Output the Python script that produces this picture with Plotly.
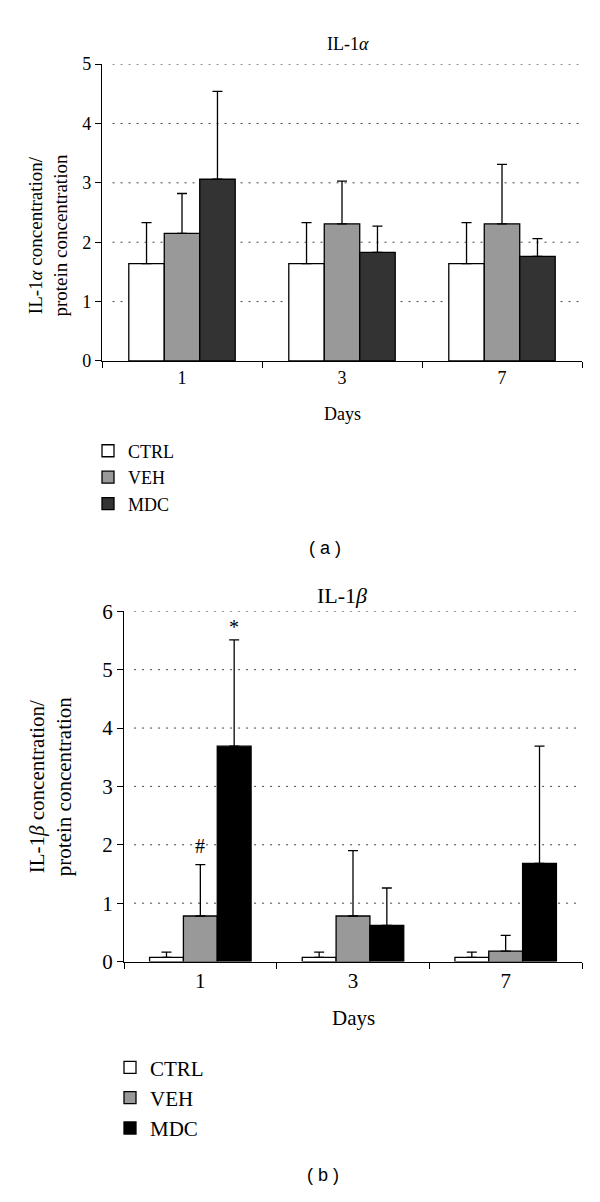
import plotly.graph_objects as go

days = ['1', '3', '7']
groups = ['CTRL', 'VEH', 'MDC']

# panel (a): IL-1 alpha, means and upper SD
a_ctrl = [1.64, 1.64, 1.64]
a_veh = [2.15, 2.31, 2.31]
a_mdc = [3.06, 1.83, 1.76]
a_ctrl_sd = [0.69, 0.69, 0.69]
a_veh_sd = [0.67, 0.72, 1.00]
a_mdc_sd = [1.48, 0.44, 0.30]
a_ticks = [0, 1, 2, 3, 4, 5]

# panel (b): IL-1 beta, means and upper SD
b_ctrl = [0.07, 0.07, 0.07]
b_veh = [0.78, 0.78, 0.18]
b_mdc = [3.69, 0.62, 1.68]
b_ctrl_sd = [0.09, 0.09, 0.09]
b_veh_sd = [0.88, 1.12, 0.27]
b_mdc_sd = [1.82, 0.64, 2.01]
b_ticks = [0, 1, 2, 3, 4, 5, 6]

# the page body has an 8px margin, so the figure is made that much smaller
PAGE_W, PAGE_H = 600, 1202
OFF = 8
W, H = PAGE_W - 2 * OFF, PAGE_H - 2 * OFF
BARGAP = 0.335


def px(x):
    return (x - OFF) / W


def py(y):
    return 1 - (y - OFF) / H


fig = go.Figure()

# Panel a bars
colors_a = ['white', '#999999', '#333333']
for name, vals, sd, col in zip(groups, [a_ctrl, a_veh, a_mdc],
                               [a_ctrl_sd, a_veh_sd, a_mdc_sd], colors_a):
    fig.add_trace(go.Bar(
        x=days, y=vals, name=name, xaxis='x', yaxis='y', legend='legend',
        marker=dict(color=col, line=dict(color='black', width=1.3)),
        error_y=dict(type='data', symmetric=False, array=sd, arrayminus=[0] * len(sd),
                     color='black', thickness=1.3, width=5),
    ))

# Panel b bars
colors_b = ['white', '#999999', '#000000']
for name, vals, sd, col in zip(groups, [b_ctrl, b_veh, b_mdc],
                               [b_ctrl_sd, b_veh_sd, b_mdc_sd], colors_b):
    fig.add_trace(go.Bar(
        x=days, y=vals, name=name, xaxis='x2', yaxis='y2', legend='legend2',
        marker=dict(color=col, line=dict(color='black', width=1.3)),
        error_y=dict(type='data', symmetric=False, array=sd, arrayminus=[0] * len(sd),
                     color='black', thickness=1.3, width=5),
    ))

xcommon = dict(showline=True, linecolor='black', linewidth=1.3, ticks='outside',
               tickson='boundaries', ticklen=6, tickcolor='black', showgrid=False)
ycommon = dict(showline=True, linecolor='black', linewidth=1.3, ticks='outside',
               ticklen=6, tickcolor='black', showgrid=False, zeroline=False)

fig.update_layout(
    width=W, height=H,
    margin=dict(l=0, r=0, t=0, b=0),
    paper_bgcolor='white', plot_bgcolor='white',
    font=dict(family='Liberation Serif', color='black', size=18),
    barmode='group', bargap=BARGAP, bargroupgap=0,
    xaxis=dict(domain=[px(102), px(582)], anchor='y', tickfont=dict(size=18), **xcommon),
    yaxis=dict(domain=[py(356), py(53)], range=[a_ticks[0], a_ticks[-1]], anchor='x',
               tickvals=a_ticks, tickfont=dict(size=18), **ycommon),
    xaxis2=dict(domain=[px(124), px(582)], anchor='y2', tickfont=dict(size=21), **xcommon),
    yaxis2=dict(domain=[py(969), py(611.5)], range=[b_ticks[0], b_ticks[-1]], anchor='x2',
                tickvals=b_ticks, tickfont=dict(size=21), **ycommon),
    legend=dict(x=px(88), y=py(475), xanchor='left', yanchor='middle',
                font=dict(size=18), bgcolor='rgba(0,0,0,0)'),
    legend2=dict(x=px(110), y=py(1108), xanchor='left', yanchor='middle',
                 font=dict(size=21), bgcolor='rgba(0,0,0,0)'),
)

# dotted grid lines, starting a little right of the y axis
for xr, yr, ticks in [('x domain', 'y', a_ticks), ('x2 domain', 'y2', b_ticks)]:
    for v in ticks[1:]:
        fig.add_shape(type='line', xref=xr, yref=yr, x0=0.022, x1=1, y0=v, y1=v,
                      layer='below', line=dict(color='#444444', width=1, dash='2px,6px'))


def label(text, x, y, size, family=None, angle=0):
    font = dict(size=size)
    if family:
        font['family'] = family
    fig.add_annotation(text=text, x=px(x), y=py(y), xref='paper', yref='paper',
                       xanchor='center', yanchor='middle', textangle=angle,
                       showarrow=False, font=font)


# panel a text
label('IL-1<i>α</i>', 348, 33, 18)
label('IL-1<i>α</i> concentration/<br>protein concentration', 48, 228, 19, angle=-90)
label('Days', 342, 410, 18)
label('( a )', 325, 547, 18, family='Liberation Sans')

# panel b text
label('IL-1<i>β</i>', 342, 595, 22)
label('IL-1<i>β</i> concentration/<br>protein concentration', 50, 790, 21, angle=-90)
label('Days', 353, 1027, 21)
label('( b )', 323, 1187, 18, family='Liberation Sans')

# significance marks above day 1 bars
bar_w = (1 - BARGAP) / 3
fig.add_annotation(text='#', x=0, y=b_veh[0] + b_veh_sd[0], xref='x2', yref='y2',
                   xanchor='center', yanchor='bottom', yshift=6, showarrow=False,
                   font=dict(size=20))
fig.add_annotation(text='*', x=bar_w, y=b_mdc[0] + b_mdc_sd[0], xref='x2', yref='y2',
                   xanchor='center', yanchor='bottom', yshift=0, showarrow=False,
                   font=dict(size=20))

fig.write_html('out.html')
